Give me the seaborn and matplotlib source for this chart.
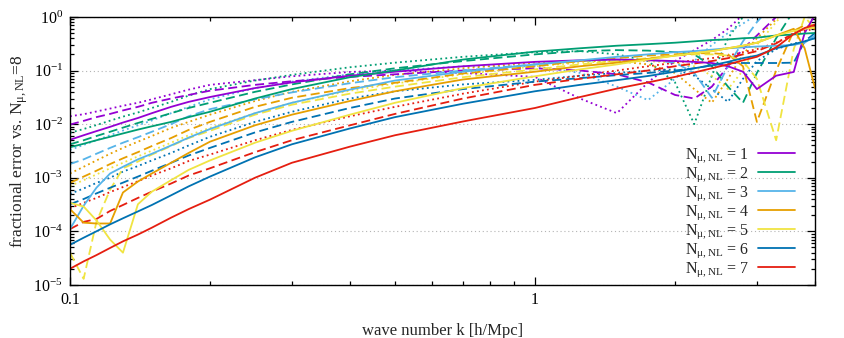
import numpy as np
import pandas as pd
import seaborn as sns
import matplotlib
matplotlib.use('Agg')
import matplotlib.pyplot as plt
from matplotlib.ticker import LogLocator, NullFormatter

# wave numbers shared by every curve [h/Mpc]
k_vals = [0.1, 0.107, 0.114, 0.122, 0.13, 0.14, 0.15, 0.165, 0.18, 0.2,
          0.25, 0.3, 0.4, 0.5, 0.7,
          1.0, 1.25, 1.5, 1.75, 2.0, 2.2, 2.4, 2.6, 2.8, 3.0, 3.3, 3.6, 3.8, 4.0]

# N_mu,NL = 1
n1_solid = [5.1e-3, 6.2e-3, 7.4e-3, 8.9e-3, 1.07e-2, 1.3e-2, 1.6e-2, 2.1e-2, 2.6e-2, 3.2e-2,
            4.7e-2, 6.0e-2, 8.0e-2, 9.5e-2, 0.12,
            0.145, 0.155, 0.16, 0.155, 0.15, 0.145, 0.138, 0.12, 0.095, 0.045, 0.08, 0.094, 0.5, 1.1]
n1_dash = [9.8e-3, 1.15e-2, 1.35e-2, 1.55e-2, 1.8e-2, 2.1e-2, 2.5e-2, 3.0e-2, 3.5e-2, 4.2e-2,
           5.4e-2, 6.3e-2, 7.6e-2, 8.5e-2, 0.1,
           0.11, 0.1, 0.085, 0.06, 0.035, 0.03, 0.05, 0.12, 0.25, 0.45, 1.0, 2.0, 2.0, 2.0]
n1_dot = [1.4e-2, 1.53e-2, 1.72e-2, 1.95e-2, 2.2e-2, 2.5e-2, 2.9e-2, 3.6e-2, 4.4e-2, 5.4e-2,
          6.6e-2, 7.8e-2, 9.4e-2, 0.1, 0.09,
          0.076, 0.03, 0.016, 0.06, 0.15, 0.24, 0.37, 0.6, 1.1, 1.6, 2.0, 2.0, 2.0, 2.0]

# N_mu,NL = 2
n2_solid = [3.7e-3, 4.3e-3, 5.0e-3, 5.8e-3, 6.7e-3, 7.9e-3, 9.1e-3, 1.1e-2, 1.35e-2, 1.7e-2,
            3.0e-2, 4.5e-2, 7.5e-2, 0.1, 0.16,
            0.225, 0.26, 0.29, 0.31, 0.33, 0.35, 0.37, 0.38, 0.4, 0.41, 0.45, 0.47, 0.49, 0.5]
n2_dash = [4.2e-3, 5.0e-3, 6.0e-3, 7.2e-3, 8.6e-3, 1.05e-2, 1.25e-2, 1.6e-2, 2.0e-2, 2.5e-2,
           4.0e-2, 5.5e-2, 8.5e-2, 0.11, 0.15,
           0.2, 0.23, 0.24, 0.235, 0.22, 0.2, 0.12, 0.05, 0.025, 0.09, 0.4, 1.3, 2.0, 2.0]
n2_dot = [6.9e-3, 8.1e-3, 9.6e-3, 1.16e-2, 1.38e-2, 1.65e-2, 2.0e-2, 2.6e-2, 3.4e-2, 4.5e-2,
          6.5e-2, 8.3e-2, 0.115, 0.14, 0.18,
          0.22, 0.23, 0.2, 0.15, 0.06, 0.01, 0.08, 0.4, 1.0, 2.0, 2.0, 2.0, 2.0, 2.0]

# N_mu,NL = 3
n3_solid = [1.1e-4, 3.0e-4, 6.5e-4, 1.2e-3, 1.6e-3, 2.2e-3, 2.8e-3, 4.0e-3, 5.6e-3, 8.1e-3,
            1.6e-2, 2.5e-2, 4.4e-2, 6.5e-2, 9.5e-2,
            0.13, 0.155, 0.18, 0.2, 0.22, 0.23, 0.245, 0.26, 0.27, 0.28, 0.29, 0.3, 0.33, 0.45]
n3_dash = [1.8e-3, 2.2e-3, 2.8e-3, 3.6e-3, 4.5e-3, 5.7e-3, 7.2e-3, 1.0e-2, 1.4e-2, 1.9e-2,
           2.9e-2, 3.9e-2, 5.8e-2, 7.5e-2, 0.1,
           0.13, 0.15, 0.16, 0.16, 0.14, 0.09, 0.031, 0.12, 0.35, 0.8, 2.0, 2.0, 2.0, 2.0]
n3_dot = [3.3e-3, 4.1e-3, 5.0e-3, 6.2e-3, 7.6e-3, 9.5e-3, 1.17e-2, 1.6e-2, 2.1e-2, 2.9e-2,
          4.7e-2, 6.2e-2, 8.5e-2, 0.1, 0.12,
          0.12, 0.09, 0.05, 0.028, 0.07, 0.15, 0.3, 0.5, 0.75, 1.1, 2.0, 2.0, 2.0, 2.0]

# N_mu,NL = 4
n4_solid = [2.6e-4, 1.45e-4, 1.4e-4, 1.4e-4, 5.3e-4, 8.5e-4, 1.2e-3, 1.9e-3, 2.9e-3, 4.7e-3,
            9.5e-3, 1.5e-2, 2.7e-2, 4.1e-2, 6.8e-2,
            0.095, 0.12, 0.14, 0.165, 0.19, 0.21, 0.23, 0.26, 0.29, 0.33, 0.45, 0.6, 0.26, 0.047]
n4_dash = [8e-4, 1.05e-3, 1.35e-3, 1.8e-3, 2.3e-3, 3.0e-3, 3.9e-3, 5.5e-3, 7.8e-3, 1.1e-2,
           2.1e-2, 3.1e-2, 4.7e-2, 5.9e-2, 8.8e-2,
           0.12, 0.15, 0.17, 0.19, 0.2, 0.21, 0.21, 0.2, 0.12, 0.011, 0.1, 0.55, 0.7, 0.6]
n4_dot = [1.2e-3, 1.6e-3, 2.1e-3, 2.8e-3, 3.6e-3, 4.7e-3, 6.0e-3, 8.5e-3, 1.1e-2, 1.5e-2,
          2.7e-2, 4.0e-2, 6.3e-2, 8.3e-2, 0.11,
          0.14, 0.15, 0.15, 0.13, 0.09, 0.045, 0.025, 0.07, 0.2, 0.4, 0.9, 2.0, 2.0, 2.0]

# N_mu,NL = 5
n5_solid = [3.4e-4, 2.9e-4, 1.6e-4, 7e-5, 4e-5, 3.2e-4, 5.5e-4, 9e-4, 1.4e-3, 2.1e-3,
            4.5e-3, 7.5e-3, 1.5e-2, 2.5e-2, 4.7e-2,
            0.078, 0.105, 0.13, 0.16, 0.19, 0.21, 0.23, 0.26, 0.29, 0.33, 0.45, 0.55, 0.6, 0.63]
n5_dash = [4e-5, 1.3e-5, 1.5e-4, 6e-4, 1.5e-3, 2.0e-3, 2.7e-3, 3.9e-3, 5.5e-3, 7.5e-3,
           1.5e-2, 2.3e-2, 3.7e-2, 5.0e-2, 7.5e-2,
           0.105, 0.13, 0.15, 0.17, 0.19, 0.2, 0.2, 0.19, 0.15, 0.07, 0.005, 0.25, 1.0, 0.6]
n5_dot = [7e-4, 9e-4, 1.15e-3, 1.5e-3, 1.9e-3, 2.5e-3, 3.2e-3, 4.5e-3, 6.2e-3, 8.5e-3,
          1.6e-2, 2.5e-2, 4.2e-2, 5.7e-2, 8.5e-2,
          0.12, 0.14, 0.15, 0.15, 0.14, 0.12, 0.08, 0.045, 0.1, 0.3, 0.8, 2.0, 2.0, 2.0]

# N_mu,NL = 6
n6_solid = [5.6e-5, 7.6e-5, 1.0e-4, 1.35e-4, 1.75e-4, 2.35e-4, 3.1e-4, 4.7e-4, 6.9e-4, 1.05e-3,
            2.4e-3, 4.2e-3, 8.3e-3, 1.35e-2, 2.4e-2,
            0.041, 0.054, 0.066, 0.079, 0.095, 0.11, 0.125, 0.145, 0.17, 0.19, 0.26, 0.31, 0.35, 0.4]
n6_dash = [3.2e-4, 4.0e-4, 5.1e-4, 6.5e-4, 8.1e-4, 1.05e-3, 1.35e-3, 1.9e-3, 2.6e-3, 3.6e-3,
           7.0e-3, 1.1e-2, 2.0e-2, 3.0e-2, 4.5e-2,
           0.062, 0.072, 0.082, 0.09, 0.1, 0.11, 0.125, 0.138, 0.138, 0.138, 0.138, 0.14, 0.35, 0.5]
n6_dot = [5e-4, 6.3e-4, 8e-4, 1.0e-3, 1.3e-3, 1.65e-3, 2.1e-3, 2.9e-3, 4.0e-3, 5.8e-3,
          1.1e-2, 1.7e-2, 3.0e-2, 4.1e-2, 5.5e-2,
          0.067, 0.08, 0.09, 0.1, 0.105, 0.08, 0.045, 0.026, 0.07, 0.15, 0.25, 0.32, 0.35, 0.42]

# N_mu,NL = 7
n7_solid = [2.0e-5, 2.75e-5, 3.6e-5, 4.9e-5, 6.5e-5, 8.7e-5, 1.17e-4, 1.8e-4, 2.6e-4, 3.9e-4,
            1.0e-3, 1.9e-3, 3.8e-3, 6.2e-3, 1.12e-2,
            0.02, 0.032, 0.046, 0.06, 0.076, 0.092, 0.11, 0.13, 0.155, 0.18, 0.27, 0.48, 0.62, 0.72]
n7_dash = [1.1e-4, 1.5e-4, 1.7e-4, 2.4e-4, 3.1e-4, 4.2e-4, 5.5e-4, 7.8e-4, 1.1e-3, 1.5e-3,
           3.0e-3, 5.0e-3, 9.5e-3, 1.55e-2, 3.0e-2,
           0.054, 0.07, 0.085, 0.1, 0.12, 0.135, 0.15, 0.17, 0.2, 0.23, 0.32, 0.5, 0.6, 0.65]
n7_dot = [2.7e-4, 3.4e-4, 4.2e-4, 5.4e-4, 6.7e-4, 8.6e-4, 1.1e-3, 1.5e-3, 2.05e-3, 2.7e-3,
          5.0e-3, 7.8e-3, 1.4e-2, 2.1e-2, 3.7e-2,
          0.062, 0.08, 0.1, 0.12, 0.14, 0.155, 0.17, 0.19, 0.22, 0.25, 0.33, 0.48, 0.55, 0.6]

n_labels = [1, 2, 3, 4, 5, 6, 7]
colori = ['#9400d3', '#009e73', '#56b4e9', '#e69f00', '#f0e442', '#0072b2', '#e51e10']
curve_solide = [n1_solid, n2_solid, n3_solid, n4_solid, n5_solid, n6_solid, n7_solid]
curve_tratteggiate = [n1_dash, n2_dash, n3_dash, n4_dash, n5_dash, n6_dash, n7_dash]
curve_punteggiate = [n1_dot, n2_dot, n3_dot, n4_dot, n5_dot, n6_dot, n7_dot]

sns.set_theme(style='ticks')
plt.rcParams['font.family'] = ['Liberation Serif', 'DejaVu Serif']
plt.rcParams['mathtext.fontset'] = 'custom'
plt.rcParams['mathtext.rm'] = 'Liberation Serif'
plt.rcParams['mathtext.it'] = 'Liberation Serif:italic'
plt.rcParams['axes.unicode_minus'] = False

fig = plt.figure(figsize=(8.45, 3.38), dpi=100)
ax = fig.add_axes([0.0828, 0.157, 0.8817, 0.793])

lw = 1.3
for col, dot in zip(colori, curve_punteggiate):
    sns.lineplot(x=k_vals, y=dot, ax=ax, color=col, lw=lw, linestyle=(0, (1, 1.8)), sort=False)
for col, dash in zip(colori, curve_tratteggiate):
    sns.lineplot(x=k_vals, y=dash, ax=ax, color=col, lw=lw, linestyle=(0, (5, 2.5)), sort=False)
handles = []
for n, col, sol in zip(n_labels, colori, curve_solide):
    sns.lineplot(x=k_vals, y=sol, ax=ax, color=col, lw=lw, sort=False)
    handles.append(ax.lines[-1])

ax.set_xscale('log')
ax.set_yscale('log')
ax.set_xlim(0.1, 4.0)
ax.set_ylim(1e-5, 1.0)

ax.set_xticks([0.1, 1.0])
ax.set_xticklabels(['0.1', '1'])
ax.xaxis.set_minor_locator(LogLocator(base=10, subs=np.arange(2, 10)))
ax.xaxis.set_minor_formatter(NullFormatter())
ax.yaxis.set_major_locator(LogLocator(base=10, numticks=10))
ax.yaxis.set_minor_locator(LogLocator(base=10, subs=np.arange(2, 10), numticks=20))
ax.yaxis.set_minor_formatter(NullFormatter())

ax.tick_params(which='both', direction='in', top=True, right=True, colors='black',
               labelsize=11.5, width=0.9)
ax.tick_params(which='major', length=6, pad=5)
ax.tick_params(which='minor', length=3)
ax.yaxis.grid(True, which='major', linestyle=(0, (1, 2.5)), color='#b4b4b4', lw=0.8)
ax.xaxis.grid(False)
for sp in ax.spines.values():
    sp.set_color('black')
    sp.set_linewidth(1.0)

ax.set_xlabel('wave number k [h/Mpc]', fontsize=12, labelpad=11)
ax.set_ylabel('fractional error vs. N$_{\\mathrm{μ,NL}}$=8', fontsize=12.5, labelpad=2)

leg_labels = ['N$_{\\mathrm{μ,NL}}$ = %d' % n for n in n_labels]
ax.legend(handles, leg_labels, loc='lower right', frameon=False, markerfirst=False,
          fontsize=11.5, handlelength=2.3, handletextpad=0.6, labelspacing=0.02,
          borderaxespad=0.0, bbox_to_anchor=(0.982, 0.0))

plt.savefig('out.png', dpi=100)
